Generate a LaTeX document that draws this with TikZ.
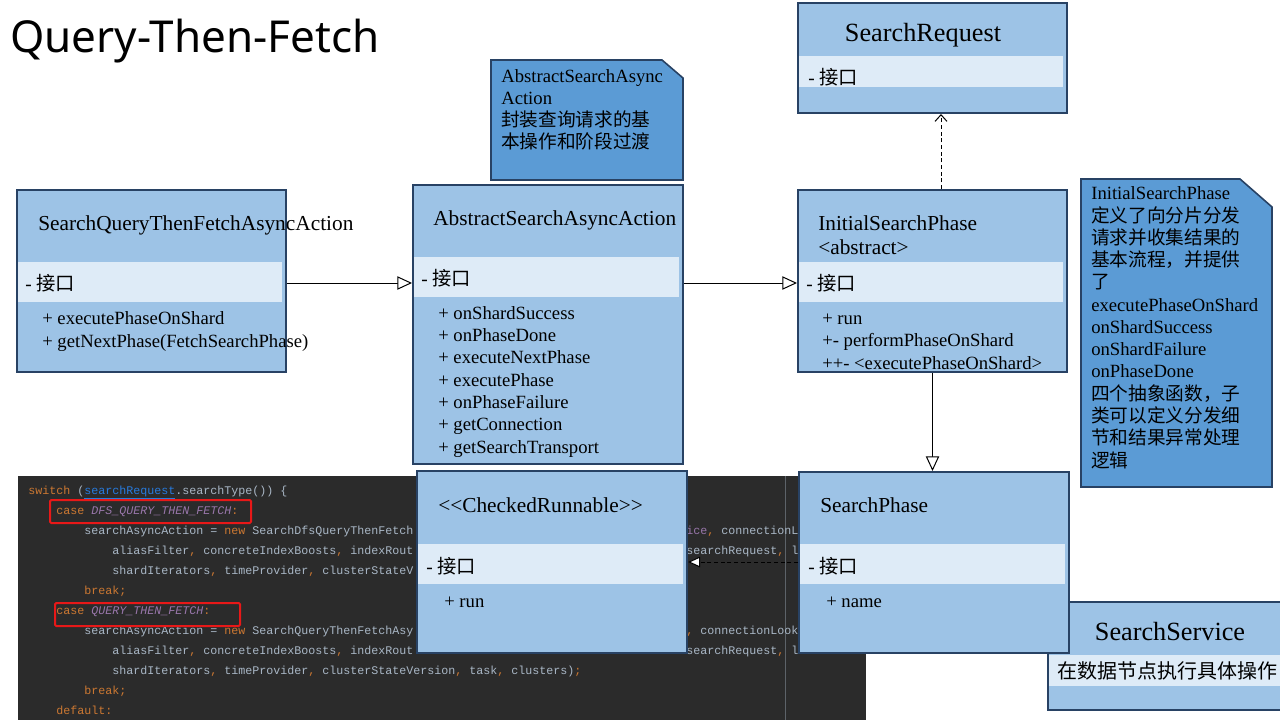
\documentclass[tikz,border=0pt]{standalone}
\usepackage{fontspec}
\usepackage{xcolor}
\setmainfont{Liberation Serif}
\newfontfamily\cjk{Noto Sans CJK SC}
\newfontfamily\codefont{Liberation Mono}
\newfontfamily\headfont{Noto Sans}
\usetikzlibrary{arrows.meta}

\definecolor{classfill}{RGB}{157,195,230}
\definecolor{bandfill}{RGB}{222,235,247}
\definecolor{boxline}{RGB}{40,66,100}
\definecolor{notefill}{RGB}{91,155,213}
\definecolor{codebg}{RGB}{43,43,43}
\definecolor{codetxt}{RGB}{169,183,198}
\definecolor{codekw}{RGB}{204,120,50}
\definecolor{codeconst}{RGB}{152,118,170}
\definecolor{codelink}{RGB}{40,123,222}
\definecolor{markred}{RGB}{232,24,24}

\newcommand{\zh}[1]{{\cjk #1}}
\newcommand{\kw}[1]{\textcolor{codekw}{#1}}
\newcommand{\cst}[1]{\textcolor{codeconst}{\itshape #1}}
\newcommand{\fld}[1]{\textcolor{codeconst}{#1}}

\tikzset{
  classbox/.style={draw=boxline, line width=1.5pt, fill=classfill, anchor=north west, inner sep=0pt},
  bandbox/.style={fill=bandfill, anchor=north west, inner sep=0pt, minimum height=30pt},
  clstitle/.style={anchor=base west, inner sep=0pt, font=\fontsize{16}{18}\selectfont},
  bigtitle/.style={anchor=base, inner sep=0pt, font=\fontsize{19.7}{24}\selectfont},
  bandtext/.style={anchor=west, inner sep=0pt, font=\fontsize{14.5}{17}\selectfont},
  methods/.style={anchor=base west, inner sep=0pt, align=left, font=\fontsize{14}{16.75}\selectfont},
  notetext/.style={anchor=base west, inner sep=0pt, align=left, font=\fontsize{14}{16.7}\selectfont},
  note/.style={draw=boxline, line width=1.2pt, fill=notefill},
  codeline/.style={anchor=base west, inner sep=0pt, text=codetxt, font=\codefont\fontsize{8.75}{10}\selectfont},
  gen/.style={line width=0.75pt, -{Triangle[length=11pt,width=10pt,fill=white]}},
  dep/.style={line width=0.75pt, dash pattern={on 3pt off 2pt}, -{Straight Barb[length=5pt,width=9pt]}},
  real/.style={line width=0.75pt, dash pattern={on 3pt off 2pt}, -{Triangle[length=9pt,width=8pt,fill=white]}}
}

\begin{document}
\begin{tikzpicture}[x=0.75pt,y=0.75pt,yscale=-1,xscale=1]
	\useasboundingbox (0,0) rectangle (1280,720);
	
	%Text Node
	\node[anchor=base west, inner sep=0pt, font=\headfont\fontsize{33}{40}\selectfont] (title) at (10,53) {Query-Then-Fetch};
	
	%Shape: Code screenshot
	\fill[codebg] (18,476) rectangle (866,720);
	\draw[color=codetxt!40!codebg, line width=0.75pt] (785,476) -- (785,720);
	\node[codeline] (c1) at (28,494) {\kw{switch} (\textcolor{codelink}{\underline{searchRequest}}.searchType()) \{};
	\node[codeline] (c2) at (56,514) {\kw{case} \cst{DFS\_QUERY\_THEN\_FETCH}\kw{:}};
	\node[codeline] (c3) at (84,534) {searchAsyncAction = \kw{new} SearchDfsQueryThenFetch};
	\node[codeline] (c3r) at (686,534) {\fld{ice}\kw{,} connectionL};
	\node[codeline] (c4) at (112,554) {aliasFilter\kw{,} concreteIndexBoosts\kw{,} indexRout};
	\node[codeline] (c4r) at (686,554) {searchRequest\kw{,} l};
	\node[codeline] (c5) at (112,574) {shardIterators\kw{,} timeProvider\kw{,} clusterStateV};
	\node[codeline] (c6) at (84,594) {\kw{break;}};
	\node[codeline] (c7) at (56,614) {\kw{case} \cst{QUERY\_THEN\_FETCH}\kw{:}};
	\node[codeline] (c8) at (84,634) {searchAsyncAction = \kw{new} SearchQueryThenFetchAsy};
	\node[codeline] (c8r) at (686,634) {\kw{,} connectionLook};
	\node[codeline] (c9) at (112,654) {aliasFilter\kw{,} concreteIndexBoosts\kw{,} indexRout};
	\node[codeline] (c9r) at (686,654) {searchRequest\kw{,} l};
	\node[codeline] (c10) at (112,674) {shardIterators\kw{,} timeProvider\kw{,} clusterStateVersion\kw{,} task\kw{,} clusters)\kw{;}};
	\node[codeline] (c11) at (84,694) {\kw{break;}};
	\node[codeline] (c12) at (56,714) {\kw{default:}};
	%Shape: Rectangle
	\draw[markred, line width=1.5pt, rounded corners=1pt] (50,500) rectangle (251,523);
	\draw[markred, line width=1.5pt, rounded corners=1pt] (55,603) rectangle (240,626);
	
	%Shape: Class SearchQueryThenFetchAsyncAction
	\node[classbox, minimum width=201.75pt, minimum height=136.5pt] (sqtf) at (16,189) {};
	\node[bandbox, minimum width=198pt] (sqtfband) at (18,262) {};
	\node[clstitle] (sqtftitle) at (38,230) {SearchQueryThenFetchAsyncAction};
	\node[bandtext] (sqtfattr) at (25,283) {- \zh{接口}};
	\node[methods] (sqtfops) at (42,347) {+ executePhaseOnShard\\+ getNextPhase(FetchSearchPhase)};
	
	%Shape: Class AbstractSearchAsyncAction
	\node[classbox, minimum width=202.5pt, minimum height=209.25pt] (asa) at (412,184) {};
	\node[bandbox, minimum width=198.75pt] (asaband) at (414,257) {};
	\node[clstitle] (asatitle) at (433,225) {AbstractSearchAsyncAction};
	\node[bandtext] (asaattr) at (421,278) {- \zh{接口}};
	\node[methods] (asaops) at (438,453) {+ onShardSuccess\\+ onPhaseDone\\+ executeNextPhase\\+ executePhase\\+ onPhaseFailure\\+ getConnection\\+ getSearchTransport};
	
	%Shape: Note
	\draw[note] (491,60) -- (662,60) -- (683,78) -- (683,180) -- (491,180) -- cycle;
	\node[notetext] (asanote) at (501,149) {AbstractSearchAsync\\Action\\\zh{封装查询请求的基}\\\zh{本操作和阶段过渡}};
	
	%Shape: Class SearchRequest
	\node[classbox, minimum width=201.75pt, minimum height=82.5pt] (req) at (797,2) {};
	\node[bandbox, minimum width=198pt, minimum height=23.25pt] (reqband) at (799,56) {};
	\node[bigtitle] (reqtitle) at (923,42) {SearchRequest};
	\node[bandtext] (reqattr) at (808,77) {- \zh{接口}};
	
	%Shape: Class InitialSearchPhase
	\node[classbox, minimum width=201.75pt, minimum height=136.5pt] (isp) at (797,189) {};
	\node[bandbox, minimum width=198pt] (ispband) at (799,262) {};
	\node[clstitle, align=left] (isptitle) at (818,254) {InitialSearchPhase\\<abstract>};
	\node[bandtext] (ispattr) at (806,283) {- \zh{接口}};
	\node[methods] (ispops) at (822,369) {+ run\\+- performPhaseOnShard\\++- <executePhaseOnShard>};
	
	%Shape: Note
	\draw[note] (1081,179) -- (1240,179) -- (1272,207) -- (1272,487) -- (1081,487) -- cycle;
	\node[notetext] (ispnote) at (1091,467) {InitialSearchPhase\\\zh{定义了向分片分发}\\\zh{请求并收集结果的}\\\zh{基本流程，并提供}\\\zh{了}\\executePhaseOnShard\\onShardSuccess\\onShardFailure\\onPhaseDone\\\zh{四个抽象函数，子}\\\zh{类可以定义分发细}\\\zh{节和结果异常处理}\\\zh{逻辑}};
	
	%Shape: Class SearchService
	\node[classbox, minimum width=195pt, minimum height=81pt] (svc) at (1047,601) {};
	\node[bandbox, minimum width=192pt, minimum height=23.25pt] (svcband) at (1049,655) {};
	\node[bigtitle] (svctitle) at (1170,640) {SearchService};
	\node[bandtext, font=\fontsize{15}{18}\selectfont] (svcattr) at (1057,671) {\zh{在数据节点执行具体操作}};
	
	%Shape: Class CheckedRunnable
	\node[classbox, minimum width=202.5pt, minimum height=136.5pt] (cr) at (416,470) {};
	\node[bandbox, minimum width=198.75pt] (crband) at (418,544) {};
	\node[clstitle] (crtitle) at (438,512) {<{}<CheckedRunnable>{}>};
	\node[bandtext] (crattr) at (426,566) {- \zh{接口}};
	\node[methods] (crops) at (444,607) {+ run};
	
	%Shape: Class SearchPhase
	\node[classbox, minimum width=202.5pt, minimum height=135.75pt] (sp) at (798,471) {};
	\node[bandbox, minimum width=198.75pt] (spband) at (800,544) {};
	\node[clstitle] (sptitle) at (820,512) {SearchPhase};
	\node[bandtext] (spattr) at (808,566) {- \zh{接口}};
	\node[methods] (spops) at (826,607) {+ name};
	
	%Straight Lines
	\draw[gen] (sqtf.east |- sqtfattr.center) -- (asa.west |- sqtfattr.center);
	\draw[gen] (asa.east |- ispattr.center) -- (isp.west |- ispattr.center);
	\draw[gen] (isp.south) -- (isp.south |- sp.north);
	\coordinate (depx) at (941,150);
	\draw[dep] (isp.north -| depx) -- (req.south -| depx);
	\draw[real] (sp.west |- 0,562) -- (cr.east |- 0,562);
	
\end{tikzpicture}
\end{document}
